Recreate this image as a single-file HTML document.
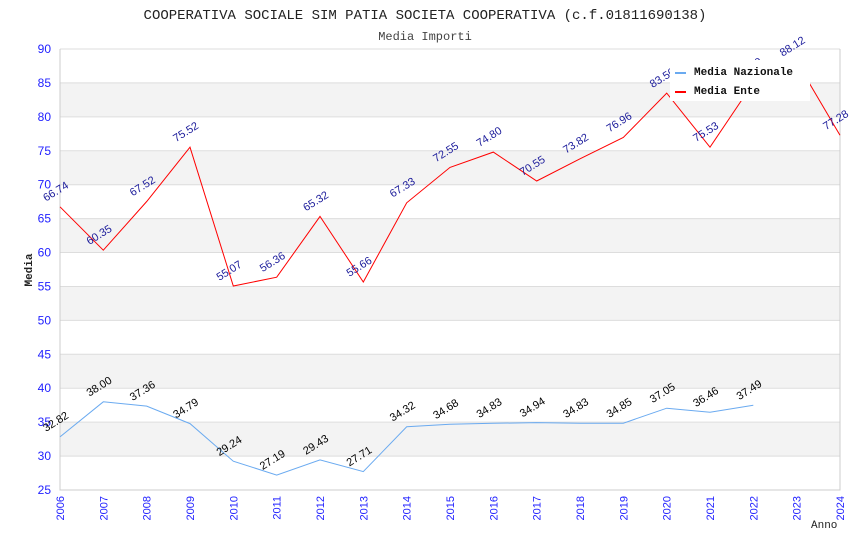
<!DOCTYPE html>
<html><head><meta charset="utf-8"><style>
body{margin:0;background:#fff}
svg{display:block}
</style></head><body>
<svg id="c" width="850" height="550" xmlns="http://www.w3.org/2000/svg" font-family="'Liberation Sans', sans-serif">
<text x="425" y="19" text-anchor="middle" font-family="'Liberation Mono', monospace" font-size="14" fill="#222">COOPERATIVA SOCIALE SIM PATIA SOCIETA COOPERATIVA (c.f.01811690138)</text>
<text x="425" y="40" text-anchor="middle" font-family="'Liberation Mono', monospace" font-size="12" fill="#444">Media Importi</text>
<g id="bands"></g><g id="grid"></g><g id="axes"></g><g id="series"></g><g id="labels"></g>
<text x="32" y="270" transform="rotate(-90 32 270)" text-anchor="middle" font-family="'Liberation Mono', monospace" font-weight="bold" font-size="11" fill="#222">Media</text>
<text x="811" y="528" font-family="'Liberation Mono', monospace" font-size="11" fill="#222">Anno</text>
<g>
<rect x="670" y="60" width="140" height="41" fill="#fff"/>
<line x1="675" y1="73" x2="686" y2="73" stroke="#6aaaf0" stroke-width="2"/>
<text x="694" y="75" font-family="'Liberation Mono', monospace" font-weight="bold" font-size="11" fill="#111">Media Nazionale</text>
<line x1="675" y1="92" x2="686" y2="92" stroke="#f00" stroke-width="2"/>
<text x="694" y="94" font-family="'Liberation Mono', monospace" font-weight="bold" font-size="11" fill="#111">Media Ente</text>
</g>
</svg>
<script>
const years=[2006,2007,2008,2009,2010,2011,2012,2013,2014,2015,2016,2017,2018,2019,2020,2021,2022,2023,2024];
const ente=[66.74,60.35,67.52,75.52,55.07,56.36,65.32,55.66,67.33,72.55,74.80,70.55,73.82,76.96,83.5,75.53,85.0,88.12,77.28];
const nazionale=[32.82,38.00,37.36,34.79,29.24,27.19,29.43,27.71,34.32,34.68,34.83,34.94,34.83,34.85,37.05,36.46,37.49];
const yTicks=[25,30,35,40,45,50,55,60,65,70,75,80,85,90];
const L=60,R=840,T=49,B=490,ymin=25,ymax=90;
const NS='http://www.w3.org/2000/svg';
const xs=y=>L+(y-years[0])/(years[years.length-1]-years[0])*(R-L);
const ys=v=>B-(v-ymin)/(ymax-ymin)*(B-T);
function mk(tag,attrs,parent){const e=document.createElementNS(NS,tag);for(const k in attrs)e.setAttribute(k,attrs[k]);document.getElementById(parent).appendChild(e);return e;}
for(let i=0;i<yTicks.length-1;i++){
 if(i%2===1){const r=mk('rect',{x:L,y:ys(yTicks[i+1]),width:R-L,height:ys(yTicks[i])-ys(yTicks[i+1]),fill:'#f3f3f3'},'bands');
 
 }
}
yTicks.forEach(t=>{
 const l=mk('line',{x1:L,x2:R,y1:ys(t),y2:ys(t),stroke:'#ddd'},'grid');
 
 
 const tx=mk('text',{x:L-9,y:ys(t)+4,'text-anchor':'end','font-size':12,fill:'#22f'},'axes');
 tx.textContent=t;
 
 
});
const ax=mk('path',{d:`M${L} ${T}V${B}H${R}V${T}`,fill:'none',stroke:'#ccc'},'axes');


years.forEach(y=>{
 const x=xs(y);
 const tx=mk('text',{x:x+4,y:496,transform:`rotate(-90 ${x+4} 496)`,'text-anchor':'end','font-size':11,fill:'#22f'},'axes');
 tx.textContent=y;
 
 
});
function series(vals,color,lblColor,name){
 const pts=vals.map((v,i)=>xs(years[i]).toFixed(1)+','+ys(v).toFixed(1)).join(' ');
 const p=mk('polyline',{points:pts,fill:'none',stroke:color,'stroke-width':1},'series');
 
 
 vals.forEach((v,i)=>{
  const x=xs(years[i])-14,y=ys(v)-5;
  const t=mk('text',{x:x,y:y,transform:`rotate(-32 ${x} ${y})`,'font-size':11,fill:lblColor},'labels');
  t.textContent=v.toFixed(2);
  
  
 });
}
series(nazionale,'#6aaaf0','#000','nazionale');
series(ente,'#f00','#1a1a9a','ente');
</script>
</body></html>
